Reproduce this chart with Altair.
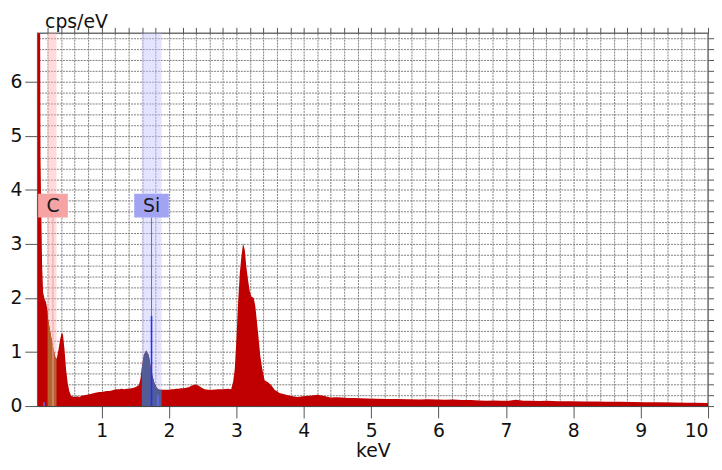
import altair as alt
import pandas as pd

# ---- spectrum ----
kev = [0.050, 0.072, 0.082, 0.092, 0.100, 0.116, 0.131, 0.153, 0.175, 0.190, 0.197,
       0.205, 0.227, 0.256, 0.286, 0.308, 0.323, 0.330, 0.337, 0.360, 0.381,
       0.408, 0.426, 0.448, 0.473, 0.496, 0.521, 0.546, 0.595, 0.640, 0.669,
       0.705, 0.742, 0.780, 0.816, 0.850, 0.890, 0.925, 0.963, 1.000, 1.037,
       1.075, 1.110, 1.150, 1.184, 1.220, 1.258, 1.295, 1.332, 1.370, 1.405,
       1.440, 1.479, 1.520, 1.553, 1.575, 1.595, 1.626, 1.660, 1.700, 1.739,
       1.784, 1.822, 1.860, 1.890, 1.940, 1.994, 2.030, 2.068, 2.100, 2.141,
       2.180, 2.215, 2.250, 2.289, 2.340, 2.387, 2.436, 2.485, 2.530, 2.583,
       2.650, 2.730, 2.800, 2.878, 2.922, 2.951, 2.976, 3.000, 3.025, 3.050,
       3.074, 3.099, 3.124, 3.147, 3.172, 3.197, 3.221, 3.256, 3.280, 3.305,
       3.330, 3.353, 3.383, 3.418, 3.467, 3.515, 3.566, 3.639, 3.736, 3.835,
       3.910, 3.982, 4.085, 4.150, 4.203, 4.290, 4.395, 4.480, 4.571, 4.660,
       4.748, 4.840, 4.940, 5.080, 5.234, 5.380, 5.528, 5.720, 5.850, 5.970,
       6.100, 6.220, 6.350, 6.486, 6.600, 6.708, 6.820, 6.929, 7.040, 7.150,
       7.260, 7.370, 7.500, 7.600, 7.780, 7.970, 8.150, 8.330, 8.500, 8.700,
       8.880, 9.060, 9.280, 9.500, 9.650, 9.800, 10.000]
cps = [9.0, 9.0, 9.0, 4.6, 3.9, 2.6, 2.1, 1.98, 1.92, 1.82, 1.75,
       1.6, 1.45, 1.24, 1.05, 0.92, 0.87, 0.88, 0.9, 1.05, 1.22,
       1.36, 1.32, 1.05, 0.66, 0.42, 0.27, 0.19, 0.17, 0.18, 0.17,
       0.19, 0.20, 0.21, 0.22, 0.23, 0.24, 0.25, 0.26, 0.26, 0.27,
       0.28, 0.28, 0.29, 0.30, 0.31, 0.31, 0.32, 0.31, 0.32, 0.32,
       0.33, 0.34, 0.36, 0.39, 0.50, 0.70, 0.94, 1.03, 0.94, 0.63,
       0.42, 0.33, 0.30, 0.30, 0.30, 0.30, 0.31, 0.31, 0.32, 0.32,
       0.33, 0.33, 0.34, 0.35, 0.38, 0.40, 0.38, 0.34, 0.31, 0.30,
       0.30, 0.31, 0.31, 0.32, 0.31, 0.45, 0.69, 1.24, 1.91, 2.46,
       2.77, 3.01, 2.89, 2.58, 2.34, 2.13, 2.03, 2.00, 1.85, 1.55,
       1.24, 0.94, 0.69, 0.48, 0.44, 0.39, 0.30, 0.24, 0.21, 0.18,
       0.17, 0.18, 0.19, 0.20, 0.21, 0.19, 0.16, 0.165, 0.16, 0.15,
       0.15, 0.145, 0.14, 0.135, 0.13, 0.13, 0.125, 0.12, 0.125, 0.12,
       0.115, 0.12, 0.11, 0.11, 0.105, 0.10, 0.105, 0.10, 0.10, 0.115,
       0.10, 0.10, 0.095, 0.10, 0.09, 0.09, 0.085, 0.085, 0.08, 0.08,
       0.075, 0.07, 0.07, 0.065, 0.06, 0.06, 0.055]

# ---- element markers ----
elements = ["C", "Si"]
el_kev = [0.277, 1.740]
band_lo = [0.197, 1.595]
band_hi = [0.330, 1.890]
label_top = [3.93, 3.93]
label_bot = [3.49, 3.49]
label_mid = [3.71, 3.71]
si_peak_line = 1.67          # bright Si Ka stick height
minor_lines_kev = [0.145, 1.836]
minor_lines_cps = [0.07, 0.20]

x_ticks_major = list(range(1, 11))
x_ticks_minor = [round(0.2 * i, 1) for i in range(1, 51)]
y_ticks_major = list(range(0, 7))
y_ticks_minor = [round(0.2 * i, 1) for i in range(0, 35)]

spec = pd.DataFrame({"kev": kev, "cps": cps})
els = pd.DataFrame({"el": elements, "kev": el_kev, "lo": band_lo, "hi": band_hi,
                    "top": label_top, "bot": label_bot, "mid": label_mid,
                    "zero": [0, 0], "peak": [0, si_peak_line]})
sticks = pd.DataFrame({"kev": minor_lines_kev, "cps": minor_lines_cps, "zero": [0, 0]})

FONT = "DejaVu Sans"
FS = 19
XS = alt.Scale(domain=[0.05, 10.0], nice=False, zero=False)
YS = alt.Scale(domain=[0, 6.9], nice=False, zero=False)

x_major = alt.Axis(values=x_ticks_major, tickSize=12, tickColor="#555", labelFontSize=FS,
                   labelFont=FONT, labelColor="#111", labelPadding=4, title="keV",
                   titleFont=FONT, titleFontSize=FS, titleFontWeight="normal",
                   titleColor="#111", titlePadding=1, grid=False, domainColor="#444",
                   labelFlush=True)
x_minor = alt.Axis(values=x_ticks_minor, tickSize=6, tickColor="#555", labels=False,
                   title=None, grid=True, gridColor="#808080", gridDash=[2, 1],
                   gridWidth=1, domain=False)
y_major = alt.Axis(values=y_ticks_major, tickSize=13, tickColor="#555", labelFontSize=FS,
                   labelFont=FONT, labelColor="#111", labelPadding=3, title="cps/eV",
                   titleFont=FONT, titleFontSize=FS, titleFontWeight="normal",
                   titleColor="#111", titleAngle=0, titleAlign="left",
                   titleBaseline="middle", titleX=7, titleY=-12, grid=False,
                   domainColor="#444", labelFlush=False)
y_minor = alt.Axis(values=y_ticks_minor, tickSize=8, tickColor="#555", labels=False,
                   title=None, grid=True, gridColor="#808080", gridDash=[2, 1],
                   gridWidth=1, domain=False)

band_colors = alt.Color("el:N", scale=alt.Scale(domain=elements, range=["#ffb0b0", "#c4c4ff"]),
                        legend=None)
bands = alt.Chart(els).mark_rect(opacity=0.45).encode(
    x=alt.X("lo:Q", scale=XS, axis=None), x2="hi:Q", color=band_colors)

area = alt.Chart(spec).mark_area(color="#c00000", clip=True, interpolate="linear").encode(
    x=alt.X("kev:Q", scale=XS, axis=x_major), y=alt.Y("cps:Q", scale=YS, axis=y_major))

c_area = alt.Chart(spec).transform_filter(
    (alt.datum.kev >= band_lo[0]) & (alt.datum.kev <= band_hi[0])
).mark_area(color="#b5622f", clip=True).encode(
    x=alt.X("kev:Q", scale=XS, axis=x_minor), y=alt.Y("cps:Q", scale=YS, axis=y_minor))

si_area = alt.Chart(spec).transform_filter(
    (alt.datum.kev >= band_lo[1]) & (alt.datum.kev <= band_hi[1])
).mark_area(color="#525d96", clip=True).encode(
    x=alt.X("kev:Q", scale=XS, axis=None), y=alt.Y("cps:Q", scale=YS, axis=None))

c_line = alt.Chart(els).transform_filter(alt.datum.el == "C").mark_rule(
    color="#eea0a0", strokeWidth=1).encode(
    x=alt.X("kev:Q", scale=XS, axis=None), y=alt.Y("zero:Q", scale=YS, axis=None), y2="bot:Q")

si_line_up = alt.Chart(els).transform_filter(alt.datum.el == "Si").mark_rule(
    color="#5a6ae0", strokeWidth=1).encode(
    x=alt.X("kev:Q", scale=XS, axis=None), y=alt.Y("peak:Q", scale=YS, axis=None), y2="bot:Q")

si_line_low = alt.Chart(els).transform_filter(alt.datum.el == "Si").mark_rule(
    color="#1f2fff", strokeWidth=1.6).encode(
    x=alt.X("kev:Q", scale=XS, axis=None), y=alt.Y("zero:Q", scale=YS, axis=None), y2="peak:Q")

stick = alt.Chart(sticks).mark_rule(color="#5f6cff", strokeWidth=1.5).encode(
    x=alt.X("kev:Q", scale=XS, axis=None), y=alt.Y("zero:Q", scale=YS, axis=None), y2="cps:Q")

box_c = alt.Chart(els).transform_filter(alt.datum.el == "C").mark_rect(
    color="#f5a3a3", xOffset=-15, x2Offset=15).encode(
    x=alt.X("kev:Q", scale=XS, axis=None), x2="kev:Q",
    y=alt.Y("top:Q", scale=YS, axis=None), y2="bot:Q")
box_si = alt.Chart(els).transform_filter(alt.datum.el == "Si").mark_rect(
    color="#a3a3f3", xOffset=-17.5, x2Offset=17.5).encode(
    x=alt.X("kev:Q", scale=XS, axis=None), x2="kev:Q",
    y=alt.Y("top:Q", scale=YS, axis=None), y2="bot:Q")
labels = alt.Chart(els).mark_text(font=FONT, fontSize=FS, color="#1a1a1a",
                                  baseline="middle", align="center").encode(
    x=alt.X("kev:Q", scale=XS, axis=None), y=alt.Y("mid:Q", scale=YS, axis=None), text="el:N")

chart = alt.layer(
    bands, area, c_area, si_area, c_line, si_line_up, si_line_low, stick,
    box_c, box_si, labels
).resolve_axis(x="independent", y="independent").properties(
    width=678, height=377,
    autosize=alt.AutoSizeParams(type="none"),
    padding={"left": 30, "top": 23, "right": 6, "bottom": 54},
    background="white",
).configure_view(stroke="#707070", strokeWidth=1.5)

chart.save("out.html", embed_options={"renderer": "svg", "actions": False})
